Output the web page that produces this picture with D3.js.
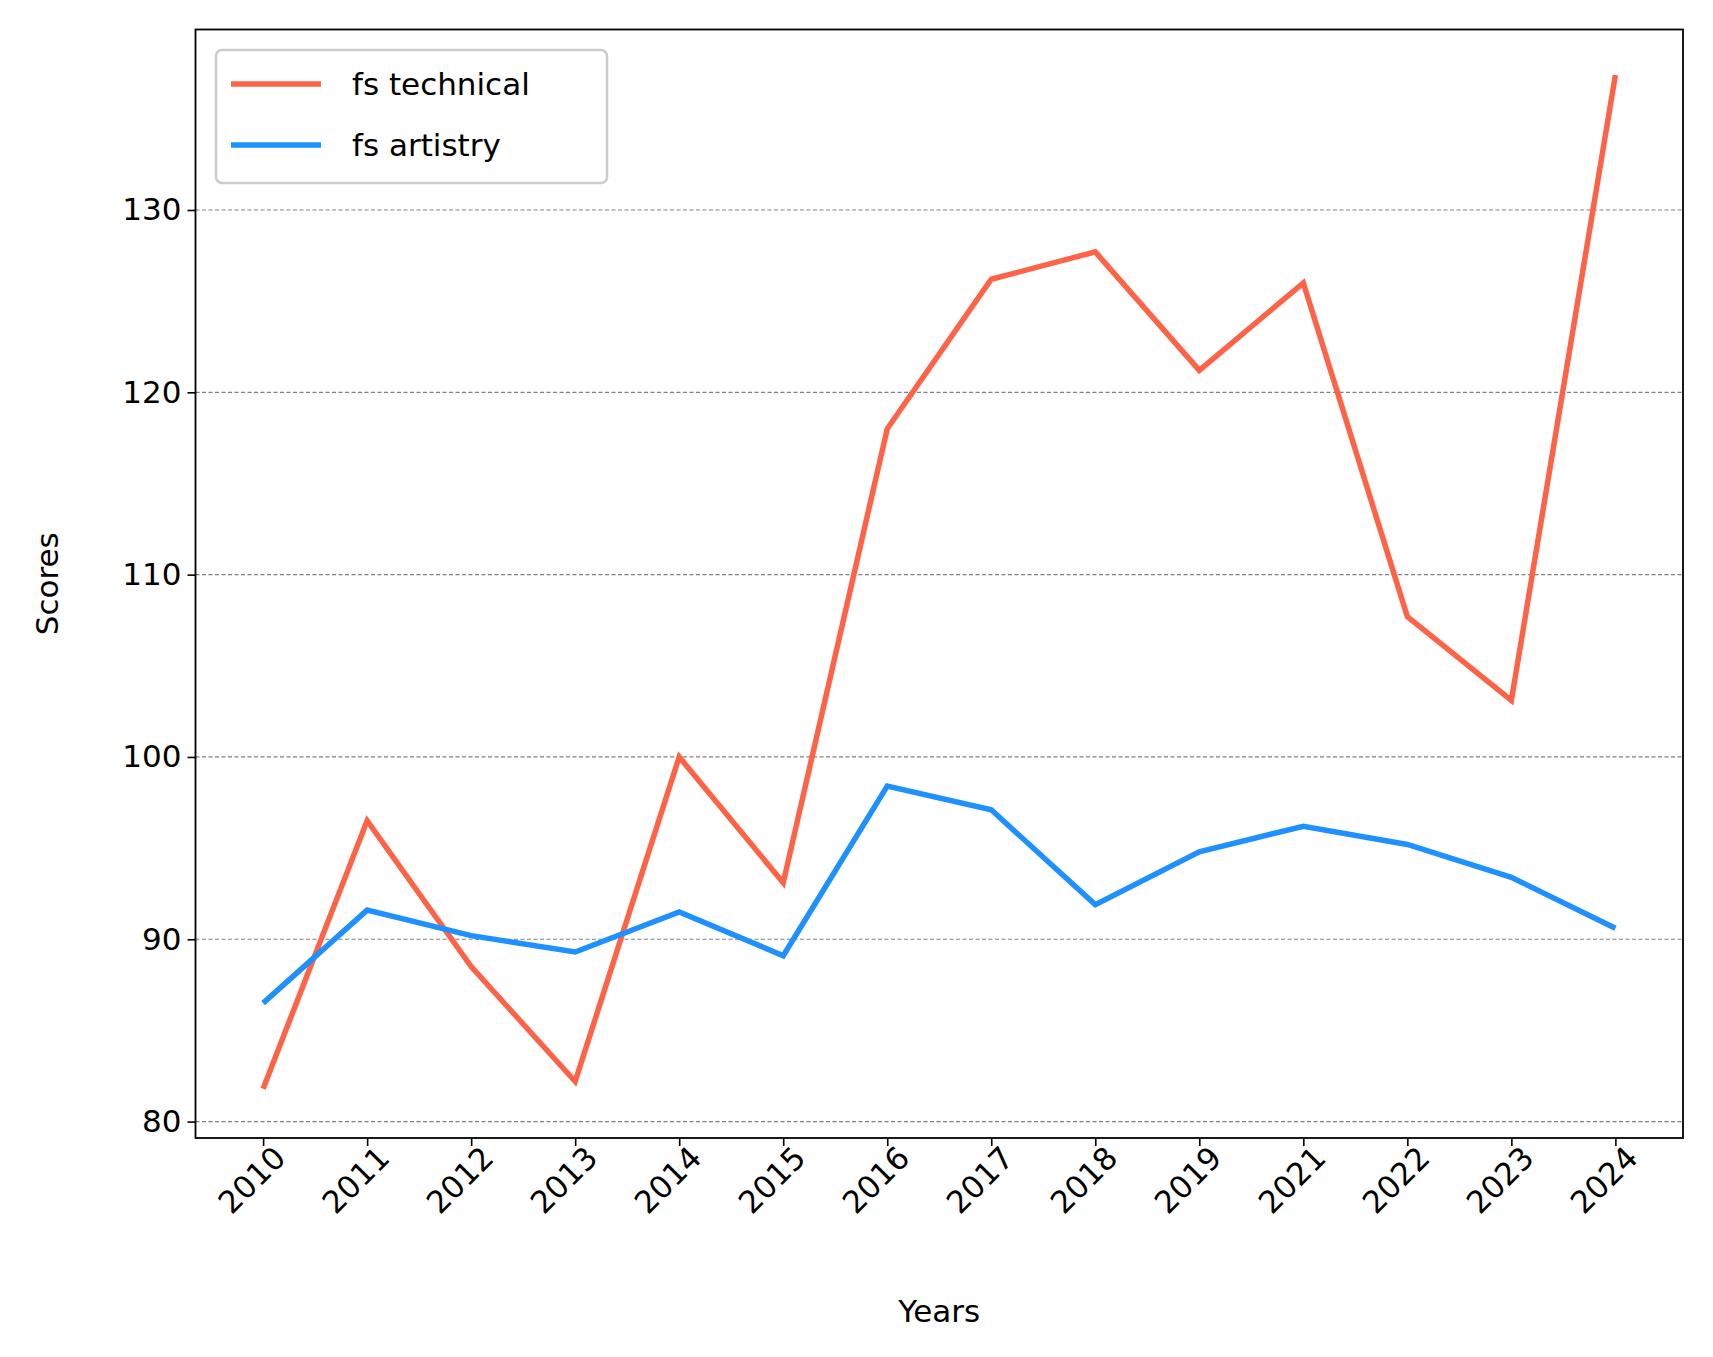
<!DOCTYPE html>
<html><head><meta charset="utf-8">
<script src="https://cdn.jsdelivr.net/npm/d3@7"></script>
<style>body{margin:0;background:#fff}text{font-family:"DejaVu Sans",sans-serif}</style>
</head><body><svg id="c" width="1713" height="1357"></svg>
<script>
var years = ['2010','2011','2012','2013','2014','2015','2016','2017','2018','2019','2021','2022','2023','2024'];
var technical = [81.8, 96.5, 88.5, 82.2, 100, 93.1, 118, 126.2, 127.7, 121.2, 126, 107.7, 103.1, 137.4];
var artistry = [86.5, 91.6, 90.2, 89.3, 91.5, 89.1, 98.4, 97.1, 91.9, 94.8, 96.2, 95.2, 93.4, 90.6];
var yTicks = [80, 90, 100, 110, 120, 130];

var svg = d3.select('#c');
var L = 195.5, R = 1683, T = 29.5, B = 1138;
var x = d3.scalePoint().domain(years).range([L, R]).padding(0.65);
var y = d3.scaleLinear().domain([79.1, 139.9]).range([B, T]);

svg.append('g').selectAll('line').data(yTicks).enter().append('line')
  .attr('x1', L).attr('x2', R).attr('y1', y).attr('y2', y)
  .attr('stroke', '#808080').attr('stroke-width', 1.2).attr('stroke-dasharray', '4,2.5');

function drawLine(vals, color) {
  svg.append('path').datum(vals)
    .attr('d', d3.line().x(function(d, i) { return x(years[i]); }).y(y))
    .attr('fill', 'none').attr('stroke', color).attr('stroke-width', 5.5);
}
drawLine(technical, '#ff6347');
drawLine(artistry, '#1e90ff');

var xa = svg.append('g').attr('transform', 'translate(0,' + B + ')')
  .call(d3.axisBottom(x).tickSizeOuter(0).tickSize(8));
xa.selectAll('text').attr('font-size', 31).attr('fill', '#000')
  .attr('text-anchor', 'end').attr('dx', 0).attr('dy', 0)
  .attr('transform', 'translate(16,14) rotate(-45)');
var ya = svg.append('g').attr('transform', 'translate(' + L + ',0)')
  .call(d3.axisLeft(y).tickValues(yTicks).tickSize(8).tickSizeOuter(0).tickPadding(6));
ya.selectAll('text').attr('font-size', 31).attr('fill', '#000');
svg.selectAll('.domain').remove();
svg.selectAll('.tick line').attr('stroke', '#000').attr('stroke-width', 1.6);

svg.append('rect').attr('x', L).attr('y', T).attr('width', R - L).attr('height', B - T)
  .attr('fill', 'none').attr('stroke', '#000').attr('stroke-width', 1.8);

svg.append('text').attr('x', (L + R) / 2).attr('y', 1322).attr('text-anchor', 'middle')
  .attr('font-size', 31).text('Years');
svg.append('text').attr('transform', 'translate(58,' + ((T + B) / 2) + ') rotate(-90)')
  .attr('text-anchor', 'middle').attr('font-size', 31).text('Scores');

var lg = svg.append('g');
lg.append('rect').attr('x', 216).attr('y', 50).attr('width', 391).attr('height', 133).attr('rx', 6)
  .attr('fill', '#fff').attr('fill-opacity', 0.8).attr('stroke', '#ccc').attr('stroke-width', 2.5);
[['fs technical', '#ff6347'], ['fs artistry', '#1e90ff']].forEach(function(d, i) {
  var yy = 84 + i * 61;
  lg.append('line').attr('x1', 231).attr('x2', 321).attr('y1', yy).attr('y2', yy)
    .attr('stroke', d[1]).attr('stroke-width', 5.5);
  lg.append('text').attr('x', 352).attr('y', yy + 11).attr('font-size', 31).text(d[0]);
});
</script></body></html>
